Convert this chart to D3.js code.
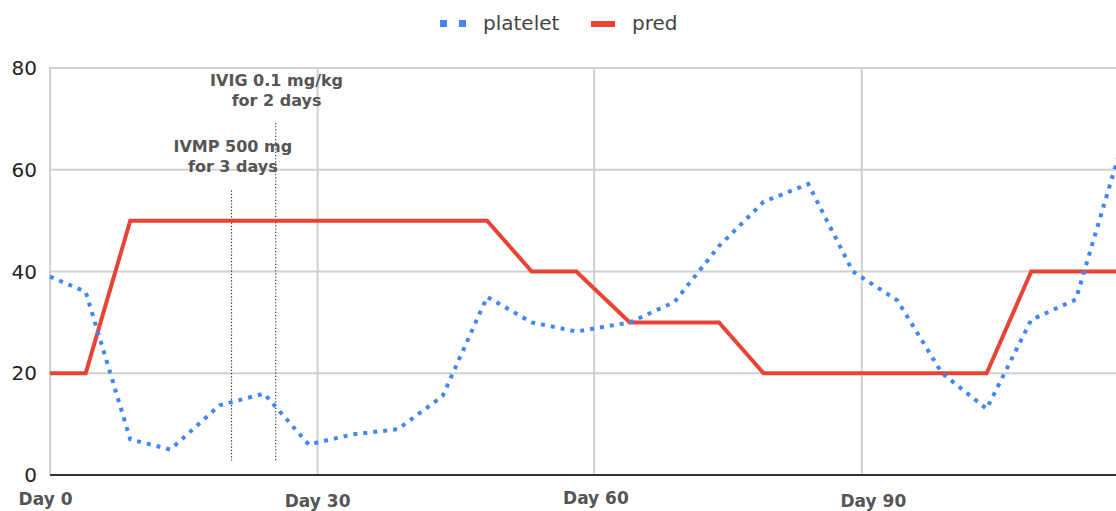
<!DOCTYPE html>
<html>
<head>
<meta charset="utf-8">
<script src="https://cdn.jsdelivr.net/npm/d3@7"></script>
<style>
  html, body { margin: 0; padding: 0; background: #fff; }
  svg { display: block; font-family: "DejaVu Sans", sans-serif; }
</style>
</head>
<body>
<svg id="chart" width="1116" height="511"></svg>
<script>
// ---- data ----
const plateletDays = [0, 4, 9, 13.5, 19, 24, 29, 34, 39, 44, 49, 54, 59, 65, 70, 75, 80, 85, 90, 95, 100, 105, 110, 115, 120];
const plateletValues = [39, 36, 7, 5, 13.7, 16, 6, 8, 9, 15.5, 35, 30, 28.2, 30, 34, 45, 53.7, 57.2, 40, 34.3, 20, 13, 30.5, 34.5, 64];
const predDays = [0, 4, 9, 49, 54, 59, 65, 75, 80, 105, 110, 120];
const predValues = [20, 20, 50, 50, 40, 40, 30, 30, 20, 20, 40, 40];
const yTicks = [0, 20, 40, 60, 80];
const gridDays = [30, 61, 91];
const xLabels = ["Day 0", "Day 30", "Day 60", "Day 90"];
const xLabelDays = [-0.5, 30, 61.2, 92.3];
const xLabelBaselines = [505, 506.5, 503.5, 506.5];
const seriesNames = ["platelet", "pred"];
const annotations = [
  { day: 20.35, top: 55.9, bottom: 2.6, lines: ["IVMP 500 mg", "for 3 days"], labelDay: 20.5, labelValue: 63.5 },
  { day: 25.3, top: 69.2, bottom: 2.6, lines: ["IVIG 0.1 mg/kg", "for 2 days"], labelDay: 25.4, labelValue: 76.5 }
];

(function () {
// ---- layout ----
const svg = d3.select("#chart");
const mLeft = 50, mRight = 1116, mTop = 68, mBottom = 475;
const x = d3.scaleLinear().domain([0, 119.5]).range([mLeft, mRight]);
const y = d3.scaleLinear().domain([0, 80]).range([mBottom, mTop]);

const blue = "#4285f4", red = "#e94335";

svg.append("rect").attr("width", 1116).attr("height", 511).attr("fill", "#fff");

// horizontal gridlines
svg.append("g").selectAll("line").data(yTicks.filter(d => d > 0)).join("line")
  .attr("x1", mLeft).attr("x2", mRight)
  .attr("y1", d => y(d)).attr("y2", d => y(d))
  .attr("stroke", "#d0d0d0").attr("stroke-width", 2);

// vertical gridlines (left edge + months)
svg.append("g").selectAll("line").data([0, ...gridDays]).join("line")
  .attr("x1", d => x(d)).attr("x2", d => x(d))
  .attr("y1", mTop - 1).attr("y2", mBottom)
  .attr("stroke", "#d0d0d0").attr("stroke-width", 2);

// y labels
svg.append("g").selectAll("text").data(yTicks).join("text")
  .attr("x", 37).attr("y", d => y(d) + 7)
  .attr("text-anchor", "end")
  .attr("font-size", 20).attr("fill", "#222")
  .text(d => d);

// annotation lines
svg.append("g").selectAll("line").data(annotations).join("line")
  .attr("x1", d => x(d.day)).attr("x2", d => x(d.day))
  .attr("y1", d => y(d.top)).attr("y2", d => y(d.bottom))
  .attr("stroke", "#222").attr("stroke-width", 1.1)
  .attr("stroke-dasharray", "1.2,2");

// baseline
svg.append("line").attr("x1", mLeft).attr("x2", mRight)
  .attr("y1", y(0)).attr("y2", y(0))
  .attr("stroke", "#333").attr("stroke-width", 2);

// x labels
svg.append("g").selectAll("text").data(xLabels).join("text")
  .attr("x", (d, i) => x(xLabelDays[i]))
  .attr("y", (d, i) => xLabelBaselines[i])
  .attr("text-anchor", "middle")
  .attr("font-size", 17).attr("font-weight", "bold").attr("fill", "#555")
  .text(d => d);

// lines
const predLine = d3.line().x((d, i) => x(predDays[i])).y(d => y(d));
svg.append("path").datum(predValues)
  .attr("d", predLine)
  .attr("fill", "none").attr("stroke", red).attr("stroke-width", 4)
  .attr("stroke-linejoin", "miter");

const plateletLine = d3.line().x((d, i) => x(plateletDays[i])).y(d => y(d));
svg.append("path").datum(plateletValues)
  .attr("d", plateletLine)
  .attr("fill", "none").attr("stroke", blue).attr("stroke-width", 4)
  .attr("stroke-dasharray", "4,6");

// annotation labels
annotations.forEach(a => {
  const t = svg.append("text")
    .attr("text-anchor", "middle")
    .attr("font-size", 16).attr("font-weight", "bold").attr("fill", "#555");
  a.lines.forEach((ln, i) => {
    t.append("tspan").attr("x", x(a.labelDay)).attr("y", y(a.labelValue) + i * 20.5).text(ln);
  });
});

// legend
const lg = svg.append("g");
lg.selectAll("rect.b").data([0, 1]).join("rect").attr("class", "b")
  .attr("x", d => 440 + d * 19).attr("y", 20).attr("width", 7).attr("height", 7)
  .attr("fill", blue);
lg.append("rect").attr("x", 591).attr("y", 21).attr("width", 24).attr("height", 6).attr("fill", red);
lg.selectAll("text").data(seriesNames).join("text")
  .attr("x", (d, i) => i === 0 ? 483 : 632).attr("y", 30)
  .attr("font-size", 20).attr("fill", "#444")
  .text(d => d);
})();
</script>
</body>
</html>
